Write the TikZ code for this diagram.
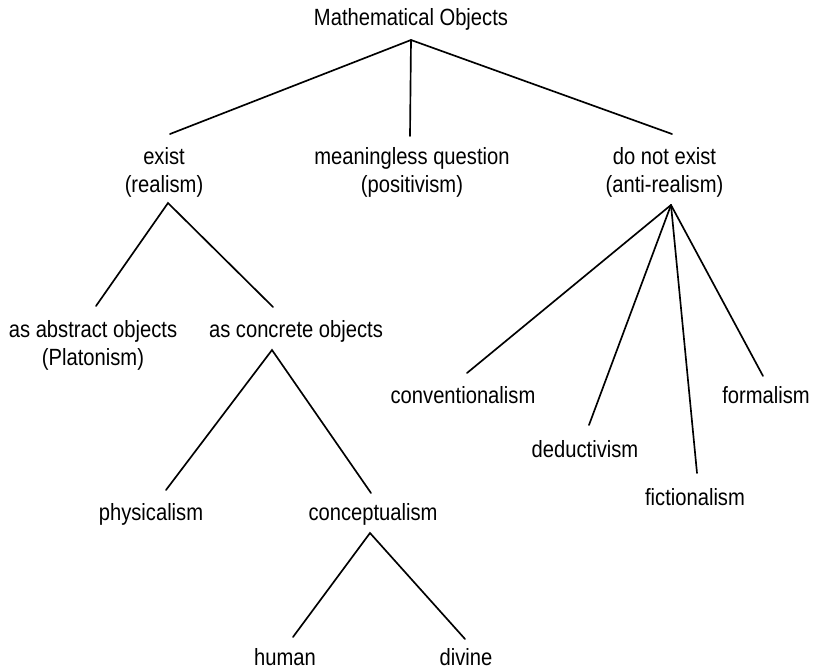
\documentclass[tikz,border=0pt]{standalone}
\usepackage{fontspec}
\setmainfont{Liberation Sans}[FakeStretch=0.86]
\begin{document}
\begin{tikzpicture}[x=0.75pt,y=-0.75pt,
  lbl/.style={inner sep=0pt,anchor=base,align=center,font=\fontsize{17.6}{20.6}\selectfont},
  branch/.style={line width=1.25pt,line cap=round}]
\useasboundingbox (0,0) rectangle (814,671);
% labels (multi-line nodes are placed at the baseline of their last line)
\node[lbl] (top) at (411,25) {Mathematical Objects};
\node[lbl] (exist) at (164,192) {exist\\(realism)};
\node[lbl] (mq) at (412,192) {meaningless question\\(positivism)};
\node[lbl] (dne) at (664.5,192) {do not exist\\(anti-realism)};
\node[lbl] (abs) at (93,365) {as abstract objects\\(Platonism)};
\node[lbl] (con) at (296,337) {as concrete objects};
\node[lbl] (phys) at (151,520) {physicalism};
\node[lbl] (concept) at (373,520) {conceptualism};
\node[lbl] (human) at (285,665) {human};
\node[lbl] (divine) at (466,665) {divine};
\node[lbl] (conv) at (463,403) {conventionalism};
\node[lbl] (form) at (766,403) {formalism};
\node[lbl] (ded) at (585,457) {deductivism};
\node[lbl] (fic) at (695,505) {fictionalism};
% attachment points
\coordinate (topB) at (411,40);
\coordinate (existT) at (170,134);
\coordinate (mqT) at (410,136);
\coordinate (dneT) at (672,134);
\coordinate (existB) at (168,203);
\coordinate (absT) at (96,306);
\coordinate (conT) at (273,307);
\coordinate (dneB) at (671,205);
\coordinate (convT) at (467,373);
\coordinate (dedT) at (589,425);
\coordinate (ficT) at (697,473);
\coordinate (formT) at (763,376);
\coordinate (conB) at (272,350);
\coordinate (physT) at (166,490);
\coordinate (conceptT) at (371,493);
\coordinate (conceptB) at (370,533);
\coordinate (humanT) at (293,637);
\coordinate (divineT) at (465,639);
% connectors
\draw[branch] (existT) -- (topB) -- (dneT);
\draw[branch] (topB) -- (mqT);
\draw[branch] (absT) -- (existB) -- (conT);
\draw[branch] (dneB) -- (convT);
\draw[branch] (dneB) -- (dedT);
\draw[branch] (dneB) -- (ficT);
\draw[branch] (dneB) -- (formT);
\draw[branch] (physT) -- (conB) -- (conceptT);
\draw[branch] (humanT) -- (conceptB) -- (divineT);
\end{tikzpicture}
\end{document}
